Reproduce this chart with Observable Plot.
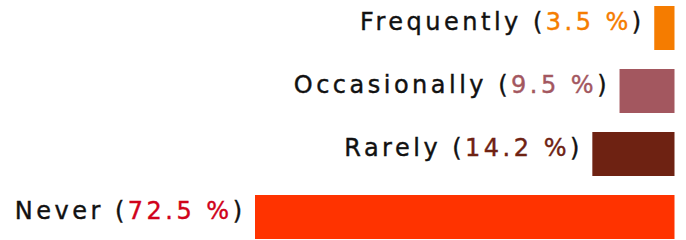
<!DOCTYPE html>
<html><head><meta charset="utf-8">
<script src="https://cdn.jsdelivr.net/npm/d3@7"></script>
<script src="https://cdn.jsdelivr.net/npm/@observablehq/plot@0.6"></script>
<style>body{margin:0;background:#fff;}</style>
</head><body><div id="chart"></div>
<script>
const categories = ["Frequently", "Occasionally", "Rarely", "Never"];
const values = [3.5, 9.5, 14.2, 72.5];
const barColors = ["#F57C00", "#A3575F", "#6E2212", "#FF3300"];
const valueColors = ["#F57C00", "#A3575F", "#6E2212", "#D0021B"];
const data = categories.map((c, i) => ({category: c, value: values[i], bar: barColors[i], label: valueColors[i]}));

const plot = Plot.plot({
  width: 686, height: 240,
  marginTop: 6, marginBottom: 0, marginLeft: 255, marginRight: 11.5,
  x: {domain: [0, 72.5], reverse: true, axis: null},
  y: {domain: categories, paddingInner: 0.3, paddingOuter: 0, axis: null},
  style: {fontFamily: "DejaVu Sans", background: "#fff"},
  marks: [
    Plot.barX(data, {x: "value", y: "category", fill: "bar"}),
    Plot.text(data, {
      x: "value", y: "category",
      text: d => `${d.category} (${d.value} %)`,
      textAnchor: "end", dx: -10, dy: -5.7, fontSize: 24, fill: "#111",
      render(index, scales, vals, dims, ctx, next) {
        const g = next(index, scales, vals, dims, ctx);
        d3.select(g).attr("letter-spacing", "3.5px").attr("stroke-width", 0.4);
        d3.select(g).selectAll("text").each(function(_, j) {
          const d = data[index[j]];
          const t = d3.select(this);
          t.text(null);
          t.append("tspan").attr("stroke", "#111").text(d.category + " (");
          t.append("tspan").attr("fill", d.label).attr("stroke", d.label).text(d.value + " %");
          t.append("tspan").attr("stroke", "#111").text(")");
        });
        return g;
      }
    })
  ]
});
document.getElementById("chart").append(plot);
</script>
</body></html>
